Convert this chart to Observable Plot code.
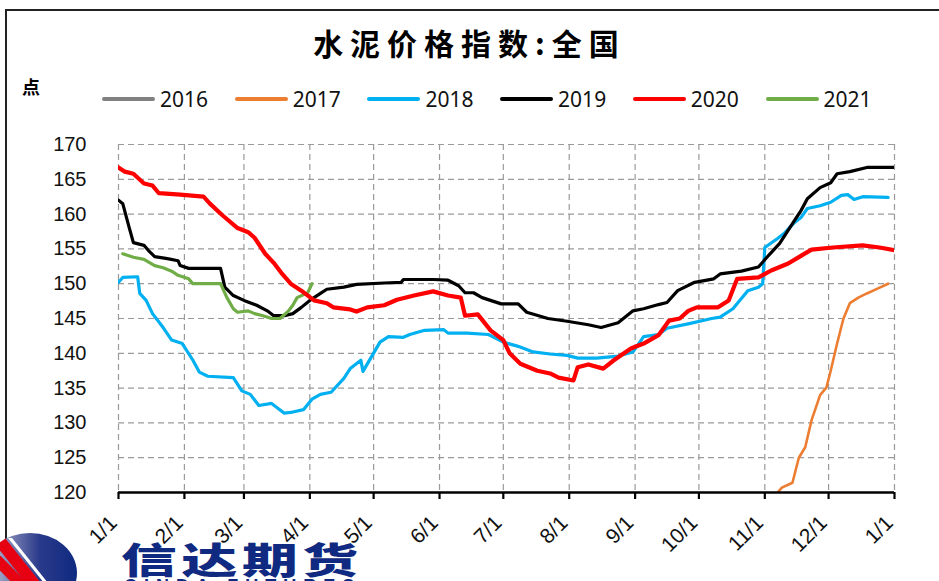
<!DOCTYPE html>
<html>
<head>
<meta charset="utf-8">
<script src="https://cdn.jsdelivr.net/npm/d3@7"></script>
<script src="https://cdn.jsdelivr.net/npm/@observablehq/plot@0.6"></script>
<style>
  html, body { margin: 0; padding: 0; background: #fff; }
  #wrap { position: relative; width: 939px; height: 581px; overflow: hidden; font-family: "Liberation Sans", Arial, sans-serif; }
  #frame { position: absolute; left: 5px; top: 9px; width: 960px; height: 600px; border-left: 2px solid #222; border-top: 2px solid #222; }
  #title { position: absolute; left: 0; width: 939px; top: 20px; text-align: center; font-family: "Noto Sans CJK SC", sans-serif; font-weight: 700; font-size: 30px; letter-spacing: 7px; color: #000; }
  #unit { position: absolute; left: 22px; top: 73px; font-family: "Noto Sans CJK SC", sans-serif; font-weight: 700; font-size: 18px; }
  .leg { position: absolute; top: 86px; height: 26px; display: flex; align-items: center; font-family: "Noto Sans", sans-serif; font-size: 21px; color: #111; }
  .leg .sw { width: 53px; height: 4px; border-radius: 2px; margin-right: 5px; }
  #plot { position: absolute; left: 0; top: 0; }
  #logo { position: absolute; left: 0; top: 528px; }
  #brand { position: absolute; left: 121px; top: 540px; font-family: "Noto Sans CJK SC", sans-serif; font-weight: 900; font-size: 36px; color: #0f2a80; letter-spacing: 3px; line-height: 1; transform: scaleX(1.55); transform-origin: left top; white-space: nowrap; }
  #brand2 { position: absolute; left: 124px; top: 577px; font-family: "Liberation Sans", sans-serif; font-weight: 700; font-size: 18px; line-height: 1; color: #0f2a80; letter-spacing: 7px; white-space: nowrap; }
</style>
</head>
<body>
<div id="wrap">
  <div id="frame"></div>
  <div id="plot"></div>
  <div id="title">水泥价格指数:全国</div>
  <div id="unit">点</div>
  <div id="legend"></div>
  <svg id="logo" width="80" height="53">
    <defs>
      <linearGradient id="g" x1="0" x2="1" y1="0" y2="0">
        <stop offset="0" stop-color="#c9c9dd"/>
        <stop offset="0.6" stop-color="#2a3a8a"/>
        <stop offset="1" stop-color="#0f2a80"/>
      </linearGradient>
      <clipPath id="c"><ellipse cx="30" cy="45" rx="47" ry="40"/></clipPath>
    </defs>
    <ellipse cx="30" cy="45" rx="47" ry="40" fill="url(#g)"/>
    <g clip-path="url(#c)">
      <polygon points="-10,10 5,10 45,60 30,60" fill="#e60012"/>
      <polygon points="8,10 12,10 52,60 48,60" fill="#fff"/>
      <polygon points="-20,22 -5,22 32,60 17,60" fill="#e60012"/>
    </g>
  </svg>
  <div id="brand">信达期货</div>
  <div id="brand2">CINDA FUTURES</div>
</div>
<script>
// Day-of-year positions and index values
const years = ["2016", "2017", "2018", "2019", "2020", "2021"];
const colors = ["#808080", "#ED7D31", "#00B0F0", "#000000", "#FF0000", "#70AD47"];

const days2016 = [];
const vals2016 = [];

const days2017 = [310, 312, 317, 320, 323, 326, 330, 333, 335, 338, 341, 344, 348, 352, 357, 362];
const vals2017 = [120, 120.7, 121.4, 125, 126.5, 130.4, 134, 135.1, 137.5, 141.4, 145, 147.2, 148, 148.6, 149.3, 150];

const days2018 = [0, 2, 9, 10, 13, 16, 21, 25, 30, 35, 38, 42, 54, 58, 62, 66, 72, 78, 81, 87, 91, 95, 100, 106, 109, 114, 115, 123, 127, 134, 137, 144, 153, 155, 164, 174, 181, 188, 195, 203, 211, 216, 225, 235, 242, 247, 254, 258, 269, 279, 283, 289, 296, 301, 303, 304, 310, 313, 318, 321, 324, 330, 335, 340, 343, 346, 350, 362];
const vals2018 = [150.2, 150.9, 151, 148.6, 147.6, 145.7, 143.7, 141.9, 141.4, 139, 137.3, 136.7, 136.5, 134.6, 134.1, 132.5, 132.8, 131.4, 131.5, 131.9, 133.4, 134.1, 134.4, 136.4, 137.8, 139, 137.4, 141.6, 142.4, 142.3, 142.7, 143.3, 143.4, 142.9, 142.9, 142.7, 141.6, 141, 140.2, 139.9, 139.7, 139.3, 139.3, 139.6, 140.2, 142.4, 142.7, 143.6, 144.3, 145, 145.2, 146.4, 149, 149.5, 150, 155.2, 156.5, 157.2, 158.8, 159.5, 160.8, 161.2, 161.7, 162.7, 162.8, 162.1, 162.5, 162.4];

const days2019 = [0, 2, 5, 7, 12, 14, 17, 23, 28, 29, 33, 48, 50, 54, 59, 65, 70, 73, 78, 82, 86, 90, 95, 98, 106, 112, 125, 133, 134, 148, 155, 160, 163, 167, 171, 180, 188, 192, 202, 211, 221, 227, 235, 242, 247, 254, 258, 263, 271, 280, 283, 293, 301, 305, 311, 318, 321, 324, 330, 335, 338, 344, 352, 365];
const vals2019 = [162, 161.5, 158.1, 155.9, 155.5, 154.8, 153.9, 153.6, 153.3, 152.6, 152.2, 152.2, 149.5, 148.3, 147.6, 146.9, 146.1, 145.4, 145.4, 145.7, 146.6, 147.6, 148.6, 149.2, 149.5, 149.9, 150.1, 150.2, 150.6, 150.6, 150.5, 149.7, 148.7, 148.7, 148, 147.1, 147.1, 145.9, 145, 144.6, 144.1, 143.7, 144.4, 146.1, 146.4, 147, 147.3, 149, 150.2, 150.7, 151.4, 151.8, 152.4, 153.8, 155.8, 159.1, 160.5, 162.2, 163.8, 164.5, 165.8, 166.1, 166.7, 166.7];

const days2020 = [0, 3, 7, 12, 16, 19, 29, 40, 43, 49, 56, 61, 64, 69, 73, 77, 81, 86, 92, 98, 101, 109, 112, 117, 125, 131, 139, 148, 155, 161, 163, 169, 175, 181, 184, 189, 197, 203, 207, 214, 216, 221, 228, 233, 241, 247, 254, 259, 264, 268, 272, 282, 287, 291, 301, 307, 315, 321, 326, 336, 350, 358, 365];
const vals2020 = [166.7, 166.1, 165.8, 164.4, 164.1, 163, 162.8, 162.5, 161.5, 159.8, 158, 157.4, 156.6, 154.3, 153, 151.4, 150, 149, 147.6, 147.2, 146.6, 146.3, 146, 146.6, 146.9, 147.7, 148.3, 148.9, 148.3, 148, 145.4, 145.6, 143.3, 141.9, 140, 138.5, 137.5, 137.1, 136.5, 136.1, 138, 138.4, 137.8, 139, 140.7, 141.4, 142.6, 144.7, 145, 146.1, 146.6, 146.6, 147.6, 150.7, 150.9, 151.9, 152.9, 154, 154.9, 155.2, 155.5, 155.2, 154.8];

const days2021 = [2, 7, 12, 17, 21, 25, 28, 33, 35, 48, 51, 54, 56, 61, 64, 68, 72, 76, 80, 82, 84, 89, 91];
const vals2021 = [154.3, 153.8, 153.5, 152.6, 152.3, 151.8, 151.2, 150.7, 150, 150, 148, 146.4, 145.9, 146.1, 145.7, 145.4, 145, 145, 146.1, 146.9, 148, 148.7, 150];

const monthTicks = [0, 31, 59, 90, 120, 151, 181, 212, 243, 273, 304, 334, 365];
const monthLabels = ["1/1", "2/1", "3/1", "4/1", "5/1", "6/1", "7/1", "8/1", "9/1", "10/1", "11/1", "12/1", "1/1"];
const yTicks = [120, 125, 130, 135, 140, 145, 150, 155, 160, 165, 170];

const seriesDays = [days2016, days2017, days2018, days2019, days2020, days2021];
const seriesVals = [vals2016, vals2017, vals2018, vals2019, vals2020, vals2021];
const widths = {"2016": 3, "2017": 2.6, "2018": 3.2, "2019": 3.2, "2020": 4.2, "2021": 3.2};

const rows = [];
years.forEach((y, i) => {
  seriesDays[i].forEach((d, j) => rows.push({year: y, day: d, value: seriesVals[i][j]}));
});
const drawOrder = ["2016", "2017", "2018", "2019", "2021", "2020"];

// Legend
const legend = document.getElementById("legend");
years.forEach((y, i) => {
  const item = document.createElement("div");
  item.className = "leg";
  item.style.left = (102 + i * 132.7) + "px";
  item.innerHTML = `<div class="sw" style="background:${colors[i]}"></div><span>${y}</span>`;
  legend.appendChild(item);
});

const fmtX = (d) => monthLabels[monthTicks.indexOf(d)];

const plot = Plot.plot({
  width: 939,
  height: 581,
  marginLeft: 118,
  marginRight: 45,
  marginTop: 144,
  marginBottom: 89,
  style: {background: "transparent", fontFamily: "Liberation Sans, Arial, sans-serif"},
  x: {domain: [0, 365], label: null},
  y: {domain: [120, 170], label: null},
  marks: [
    Plot.gridX(monthTicks, {stroke: "#9a9a9a", strokeOpacity: 1, strokeDasharray: "6,4", strokeWidth: 1.2}),
    Plot.gridY(yTicks.filter(v => v > 120), {stroke: "#9a9a9a", strokeOpacity: 1, strokeDasharray: "6,4", strokeWidth: 1.2}),
    ...drawOrder.map(y => Plot.line(rows.filter(r => r.year === y), {
      x: "day", y: "value", stroke: colors[years.indexOf(y)], strokeWidth: widths[y], strokeLinejoin: "round", strokeLinecap: "round", clip: true
    })),
    Plot.ruleY([120], {stroke: "#000", strokeWidth: 2.5}),
    Plot.axisY(yTicks, {label: null, tickSize: 0, tickPadding: 32, fontSize: 20, fill: "#111"}),
    Plot.axisX(monthTicks, {label: null, text: null, tickSize: 7, stroke: "#000", strokeWidth: 2.2}),
    Plot.axisX(monthTicks, {label: null, tickFormat: fmtX, tickSize: 0, tickRotate: -45, tickPadding: 23, dx: -5, dy: 4, fontSize: 21, fill: "#111"})
  ]
});
document.getElementById("plot").appendChild(plot);
</script>
</body>
</html>
